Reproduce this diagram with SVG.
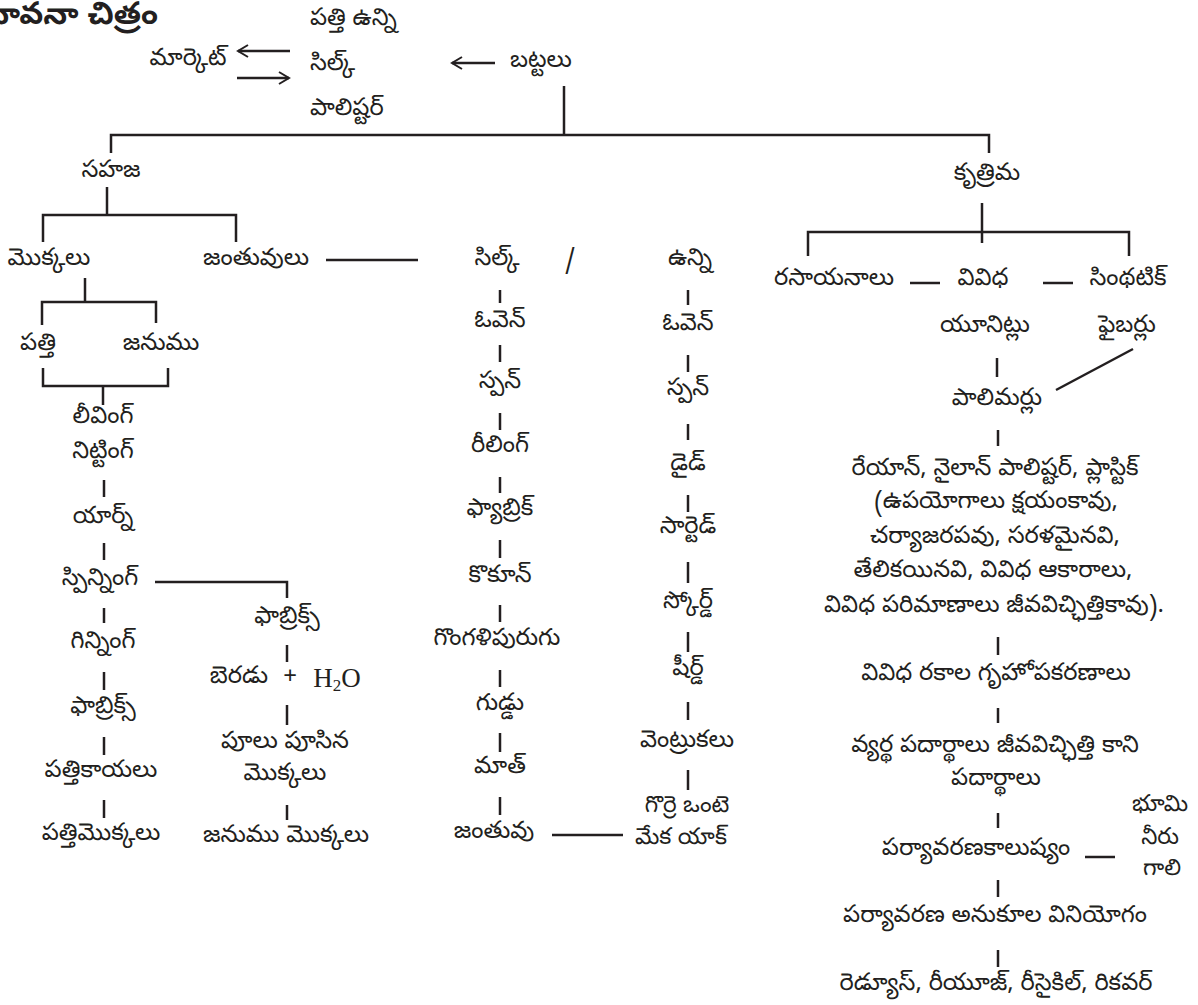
<svg xmlns="http://www.w3.org/2000/svg" width="1198" height="1005" viewBox="0 0 1198 1005">
<style>
text{font-family:"Noto Sans Telugu","Lohit Telugu","Noto Sans",sans-serif;font-size:24px;fill:#231f20;text-anchor:middle;dominant-baseline:central}
.l{text-anchor:start}
.title{font-size:31px;text-anchor:end;font-weight:bold}
.c line,.c polyline{stroke:#231f20;stroke-width:2.5;fill:none}
.ser{font-family:"Liberation Serif",serif;font-size:27px}
.sm{font-size:23px}
</style>
<defs>
<marker id="ah" markerWidth="14" markerHeight="14" refX="11" refY="7" orient="auto" markerUnits="userSpaceOnUse">
<polyline points="1,1 11,7 1,13" fill="none" stroke="#231f20" stroke-width="2"/>
</marker>
</defs>
<rect width="1198" height="1005" fill="#fff"/>
<g id="title"><text class="title" x="158" y="18">భావనా చిత్రం</text></g>
<g id="n_top1"><text class="l" x="310" y="20">పత్తి ఉన్ని</text></g>
<g id="n_market"><text x="188" y="60">మార్కెట్</text></g>
<g id="n_top2"><text class="l" x="310" y="65">సిల్క్</text></g>
<g id="n_top3"><text class="l" x="310" y="110">పాలిష్టర్</text></g>
<g id="n_battalu"><text x="541" y="62">బట్టలు</text></g>
<g id="n_sahaja"><text x="111" y="172">సహజ</text></g>
<g id="n_mokkalu"><text x="49" y="260">మొక్కలు</text></g>
<g id="n_jantuvulu"><text x="256" y="260">జంతువులు</text></g>
<g id="n_patti"><text x="38" y="345">పత్తి</text></g>
<g id="n_janumu"><text x="161" y="345">జనుము</text></g>
<g id="n_leaving"><text x="103" y="418">లీవింగ్</text><text x="103" y="453">నిట్టింగ్</text></g>
<g id="n_yarn"><text x="103" y="518">యార్న్</text></g>
<g id="n_spinning"><text x="100" y="580">స్పిన్నింగ్</text></g>
<g id="n_ginning"><text x="103" y="643">గిన్నింగ్</text></g>
<g id="n_fabrics_l"><text x="103" y="708">ఫాబ్రిక్స్</text></g>
<g id="n_pattikayalu"><text x="101" y="772">పత్తికాయలు</text></g>
<g id="n_pattimokkalu"><text x="101" y="835">పత్తిమొక్కలు</text></g>
<g id="n_fabrics_r"><text x="287" y="618">ఫాబ్రిక్స్</text></g>
<g id="n_beradu"><text x="239" y="678">బెరడు</text><text x="290" y="678" font-size="28">+</text><text class="ser" x="337" y="678">H<tspan font-size="17" dy="7">2</tspan><tspan dy="-7">O</tspan></text></g>
<g id="n_pulu"><text x="285" y="743">పూలు పూసిన</text><text x="285" y="775">మొక్కలు</text></g>
<g id="n_janumu_mok"><text x="286" y="837">జనుము మొక్కలు</text></g>
<g id="n_silk"><text x="497" y="260">సిల్క్</text></g>
<g id="slash"><text x="570" y="260">/</text></g>
<g id="n_unni"><text x="690" y="260">ఉన్ని</text></g>
<g id="n_oven1"><text x="500" y="322">ఓవెన్</text></g>
<g id="n_spun1"><text x="500" y="383">స్పన్</text></g>
<g id="n_reeling"><text x="500" y="447">రీలింగ్</text></g>
<g id="n_fabric"><text x="500" y="510">ఫ్యాబ్రిక్</text></g>
<g id="n_cocoon"><text x="500" y="577">కొకూన్</text></g>
<g id="n_caterpillar"><text x="497" y="640">గొంగళిపురుగు</text></g>
<g id="n_egg"><text x="500" y="705">గుడ్డు</text></g>
<g id="n_moth"><text x="500" y="768">మాత్</text></g>
<g id="n_jantuvu"><text x="494" y="833">జంతువు</text></g>
<g id="n_oven2"><text x="688" y="325">ఓవెన్</text></g>
<g id="n_spun2"><text x="688" y="390">స్పన్</text></g>
<g id="n_dyed"><text x="688" y="465">డైడ్</text></g>
<g id="n_sorted"><text x="688" y="528">సార్టెడ్</text></g>
<g id="n_scoured"><text x="688" y="603">స్కోర్డ్</text></g>
<g id="n_sheared"><text x="688" y="670">షీర్డ్</text></g>
<g id="n_hair"><text x="687" y="742">వెంట్రుకలు</text></g>
<g id="n_animals"><text class="sm" x="687" y="807">గొర్రె ఒంటె</text><text class="sm" x="681" y="839">మేక యాక్</text></g>
<g id="n_kritrima"><text x="987" y="175">కృత్రిమ</text></g>
<g id="n_rasayanalu"><text x="834" y="280">రసాయనాలు</text></g>
<g id="n_vividha"><text x="983" y="280">వివిధ</text><text x="985" y="327">యూనిట్లు</text></g>
<g id="n_synthetic"><text x="1128" y="280">సింథటిక్</text><text x="1127" y="327">ఫైబర్లు</text></g>
<g id="n_polymers"><text x="997" y="400">పాలిమర్లు</text></g>
<g id="n_products">
<text x="995" y="470">రేయాన్, నైలాన్ పాలిష్టర్, ప్లాస్టిక్</text>
<text x="996" y="503">(ఉపయోగాలు క్షయంకావు,</text>
<text x="995" y="538">చర్యాజరపవు, సరళమైనవి,</text>
<text x="993" y="572">తేలికయినవి, వివిధ ఆకారాలు,</text>
<text x="994" y="607">వివిధ పరిమాణాలు జీవవిచ్ఛిత్తికావు).</text>
</g>
<g id="n_household"><text x="996" y="675">వివిధ రకాల గృహోపకరణాలు</text></g>
<g id="n_waste"><text x="995" y="747">వ్యర్థ పదార్థాలు జీవవిచ్ఛిత్తి కాని</text><text x="996" y="780">పదార్థాలు</text></g>
<g id="n_pollution"><text x="976" y="850">పర్యావరణకాలుష్యం</text></g>
<g id="n_elements"><text class="sm" x="1160" y="806">భూమి</text><text class="sm" x="1160" y="839">నీరు</text><text class="sm" x="1162" y="870">గాలి</text></g>
<g id="n_eco"><text x="995" y="917">పర్యావరణ అనుకూల వినియోగం</text></g>
<g id="n_4r"><text x="996" y="985">రెడ్యూస్, రీయూజ్, రీసైకిల్, రికవర్</text></g>
<g id="connectors" class="c">
<line x1="290" y1="51" x2="238" y2="51" marker-end="url(#ah)"/>
<line x1="237" y1="78" x2="289" y2="78" marker-end="url(#ah)"/>
<line x1="495" y1="63" x2="452" y2="63" marker-end="url(#ah)"/>
<line x1="564" y1="86" x2="564" y2="135"/>
<polyline points="111,153 111,135 989,135 989,153"/>
<line x1="107" y1="187" x2="107" y2="215"/>
<polyline points="43,242 43,215 236,215 236,242"/>
<line x1="326" y1="260" x2="418" y2="260"/>
<line x1="85" y1="278" x2="85" y2="302"/>
<polyline points="42,325 42,302 156,302 156,323"/>
<polyline points="43,368 43,386 168,386 168,368"/>
<line x1="103" y1="386" x2="103" y2="405"/>
<line x1="104" y1="480" x2="104" y2="497"/>
<line x1="104" y1="543" x2="104" y2="560"/>
<polyline points="155,582 287,582 287,598"/>
<line x1="104" y1="608" x2="104" y2="623"/>
<line x1="104" y1="672" x2="104" y2="690"/>
<line x1="104" y1="737" x2="104" y2="755"/>
<line x1="104" y1="800" x2="104" y2="818"/>
<line x1="287" y1="645" x2="287" y2="662"/>
<line x1="287" y1="705" x2="287" y2="725"/>
<line x1="287" y1="805" x2="287" y2="820"/>
<line x1="500" y1="290" x2="500" y2="303"/>
<line x1="500" y1="345" x2="500" y2="362"/>
<line x1="500" y1="413" x2="500" y2="430"/>
<line x1="500" y1="477" x2="500" y2="493"/>
<line x1="500" y1="540" x2="500" y2="558"/>
<line x1="500" y1="605" x2="500" y2="622"/>
<line x1="500" y1="670" x2="500" y2="687"/>
<line x1="500" y1="733" x2="500" y2="752"/>
<line x1="500" y1="797" x2="500" y2="815"/>
<line x1="552" y1="835" x2="623" y2="835"/>
<line x1="688" y1="290" x2="688" y2="305"/>
<line x1="688" y1="355" x2="688" y2="372"/>
<line x1="688" y1="424" x2="688" y2="440"/>
<line x1="688" y1="495" x2="688" y2="512"/>
<line x1="688" y1="562" x2="688" y2="583"/>
<line x1="688" y1="632" x2="688" y2="652"/>
<line x1="688" y1="702" x2="688" y2="720"/>
<line x1="688" y1="770" x2="688" y2="790"/>
<line x1="982" y1="203" x2="982" y2="243"/>
<polyline points="808,256 808,232 1129,232 1129,256"/>
<line x1="910" y1="283" x2="940" y2="283"/>
<line x1="1043" y1="283" x2="1073" y2="283"/>
<line x1="997" y1="358" x2="997" y2="377"/>
<line x1="1133" y1="349" x2="1056" y2="390"/>
<line x1="998" y1="430" x2="998" y2="446"/>
<line x1="998" y1="637" x2="998" y2="655"/>
<line x1="998" y1="708" x2="998" y2="723"/>
<line x1="998" y1="813" x2="998" y2="828"/>
<line x1="1085" y1="857" x2="1115" y2="857"/>
<line x1="998" y1="880" x2="998" y2="897"/>
<line x1="998" y1="950" x2="998" y2="967"/>
</g>
</svg>
